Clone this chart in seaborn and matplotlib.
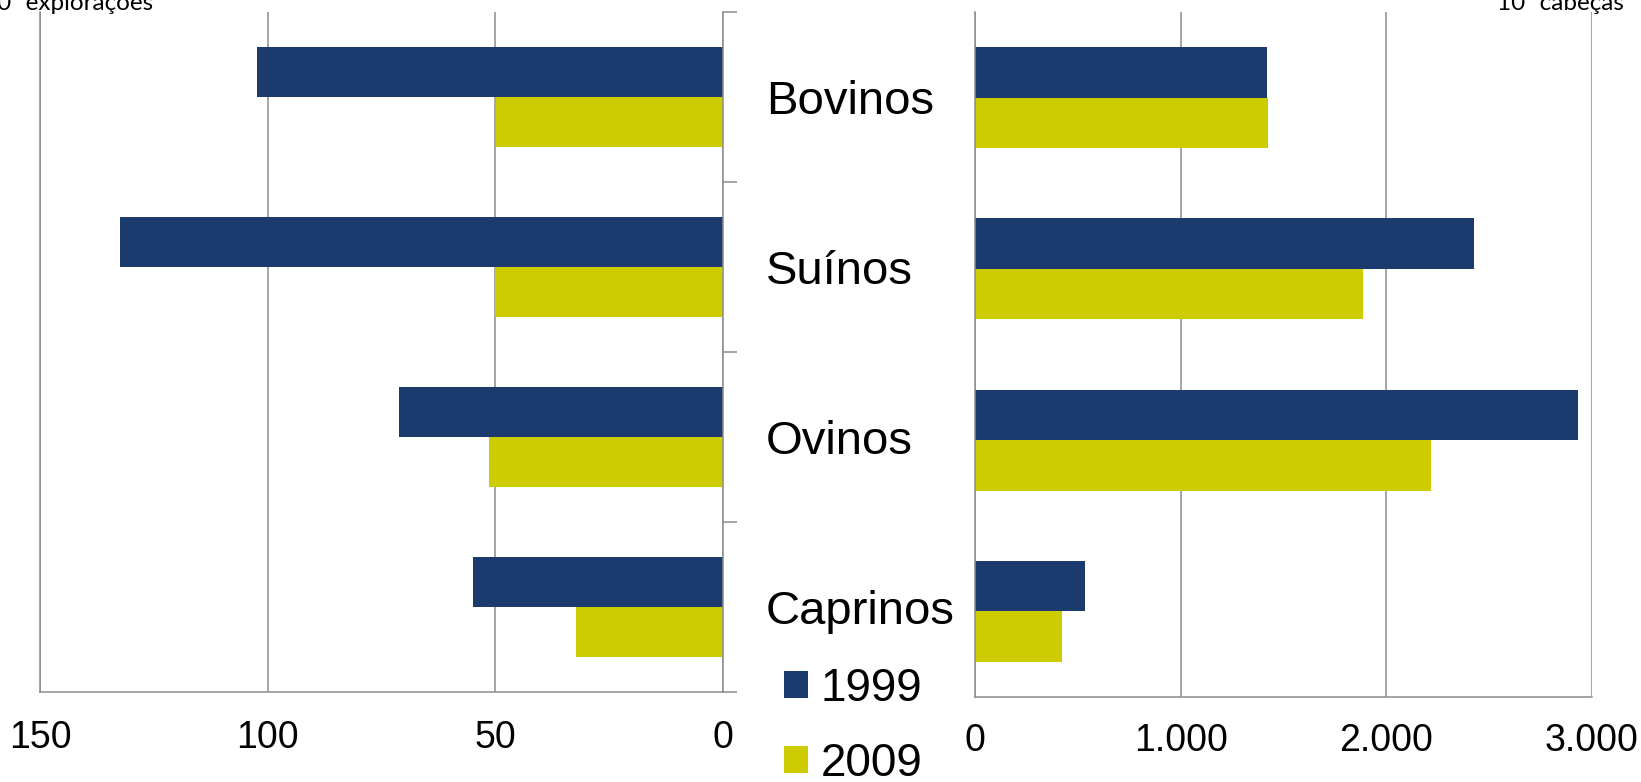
import pandas as pd
import numpy as np
import seaborn as sns
import matplotlib.pyplot as plt
from matplotlib.ticker import FixedLocator

# --- data ---
especies = ['Bovinos', 'Suínos', 'Ovinos', 'Caprinos']
anos = ['1999', '2009']
exploracoes_1999 = [102.4, 132.5, 71.1, 54.8]   # 10^3 explorações
exploracoes_2009 = [49.9, 50.0, 51.5, 32.2]
cabecas_1999 = [1421, 2425, 2934, 535]          # 10^3 cabeças
cabecas_2009 = [1426, 1885, 2216, 423]

left_ticks = [150, 100, 50, 0]
right_ticks = [0, 1000, 2000, 3000]
right_tick_labels = ['0', '1.000', '2.000', '3.000']

cores = {'1999': '#1B3A6E', '2009': '#CCCC00'}
grid_col = '#8C8C8C'

df_expl = pd.DataFrame({
    'especie': especies * 2,
    'ano': [anos[0]] * 4 + [anos[1]] * 4,
    'valor': exploracoes_1999 + exploracoes_2009,
})
df_cab = pd.DataFrame({
    'especie': especies * 2,
    'ano': [anos[0]] * 4 + [anos[1]] * 4,
    'valor': cabecas_1999 + cabecas_2009,
})

sns.set_style('white')
plt.rcParams['font.family'] = ['Liberation Sans', 'DejaVu Sans']
plt.rcParams['text.color'] = 'black'
plt.rcParams['xtick.labelcolor'] = 'black'
plt.rcParams['ytick.labelcolor'] = 'black'

W, H = 1641, 782
fig = plt.figure(figsize=(W / 100, H / 100), dpi=100)

def px_axes(x0, y0, x1, y1):
    return fig.add_axes([x0 / W, 1 - y1 / H, (x1 - x0) / W, (y1 - y0) / H])

ax_l = px_axes(40, 12, 723, 692)
ax_r = px_axes(975, 12, 1592, 697)

for ax, df in [(ax_l, df_expl), (ax_r, df_cab)]:
    sns.barplot(data=df, y='especie', x='valor', hue='ano', hue_order=anos,
                order=especies, palette=cores, orient='h', width=0.59,
                saturation=1, linewidth=0, ax=ax, legend=True)
    ax.set_ylim(3.5, -0.5)
    ax.set_xlabel('')
    ax.set_ylabel('')
    ax.grid(False)
    ax.xaxis.grid(True, color=grid_col, lw=1.1)
    ax.set_axisbelow(True)
    for s in ax.spines.values():
        s.set_color(grid_col)
        s.set_linewidth(1.1)
    ax.spines['top'].set_visible(False)

handles, labels = ax_l.get_legend_handles_labels()
ax_l.get_legend().remove()
ax_r.get_legend().remove()

# left panel: reversed axis, category axis on the right
ax_l.set_xlim(150, 0)
ax_l.xaxis.set_major_locator(FixedLocator(left_ticks))
ax_l.set_xticklabels([str(t) for t in left_ticks])
ax_l.tick_params(axis='x', direction='out', length=8, width=1.1, color=grid_col,
                 labelsize=27, pad=12)
ax_l.yaxis.tick_right()
ax_l.yaxis.set_major_locator(FixedLocator(range(len(especies))))
ax_l.set_yticklabels(especies)
for t in ax_l.get_yticklabels():
    t.set_horizontalalignment('left')
ax_l.tick_params(axis='y', which='major', length=0, labelsize=34, pad=31)
ax_l.yaxis.set_minor_locator(FixedLocator(np.arange(-0.5, len(especies), 1.0)))
ax_l.tick_params(axis='y', which='minor', direction='out', length=10, width=1.1,
                 color=grid_col, right=True, left=False)
ax_l.spines['left'].set_visible(True)

# right panel
ax_r.set_xlim(0, 3000)
ax_r.xaxis.set_major_locator(FixedLocator(right_ticks))
ax_r.set_xticklabels(right_tick_labels)
ax_r.tick_params(axis='x', direction='out', length=8, width=1.1, color=grid_col,
                 labelsize=27, pad=11)
ax_r.set_yticks([])
ax_r.spines['right'].set_visible(False)

fig.legend(handles, labels, loc='upper left', bbox_to_anchor=(784 / W, 1 - 667 / H),
           frameon=False, fontsize=33, handlelength=0.53, handleheight=0.53,
           handletextpad=0.27, labelspacing=0.68, borderpad=0, borderaxespad=0)

# units, partly cut off at the top as in the source
fig.text(153 / W, 1 - 10 / H, '10³ explorações', ha='right', va='baseline',
         fontsize=17.5, family=['Lato', 'DejaVu Sans'])
fig.text(1624 / W, 1 - 10 / H, '10³ cabeças', ha='right', va='baseline',
         fontsize=17.5, family=['Lato', 'DejaVu Sans'])

fig.savefig('out.png', dpi=100)
